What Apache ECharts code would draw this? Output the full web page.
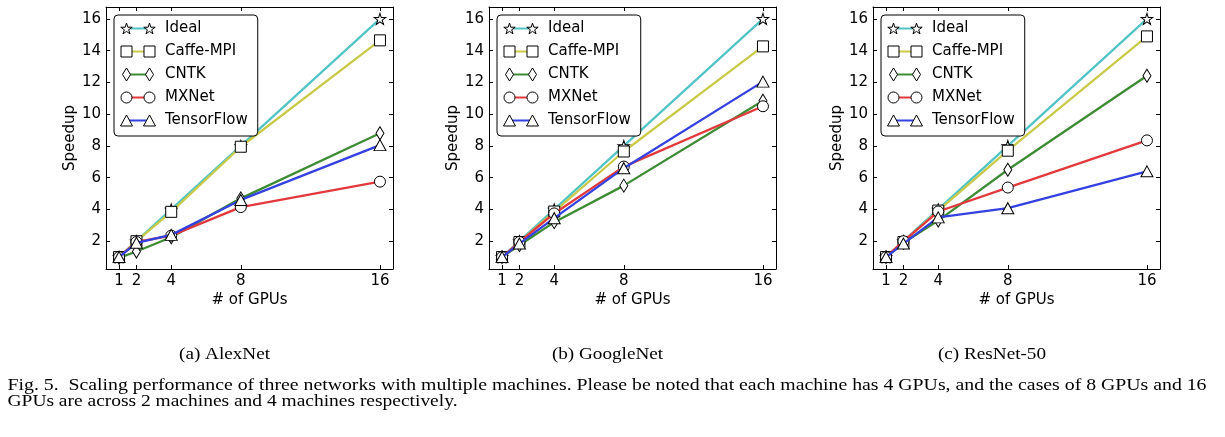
<!DOCTYPE html>
<html>
<head>
<meta charset="utf-8">
<script src="https://cdn.jsdelivr.net/npm/echarts@6/dist/echarts.min.js"></script>
<style>html,body{margin:0;padding:0;background:#fff}#c{width:1225px;height:437px}</style>
</head>
<body>
<div id="c"></div>
<script>
// ---------------- data ----------------
const gpus = [1, 2, 4, 8, 16];
const seriesNames = ['Ideal', 'Caffe-MPI', 'CNTK', 'MXNet', 'TensorFlow'];
const xTicks = [1, 2, 4, 8, 16];
const yTicks = [2, 4, 6, 8, 10, 12, 14, 16];
const axisMin = 0.25, axisMax = 16.75;

const alexIdeal = [1, 2, 4, 8, 16];
const alexCaffe = [1, 2.0, 3.85, 7.95, 14.65];
const alexCntk  = [0.95, 1.35, 2.25, 4.7, 8.8];
const alexMxnet = [1, 1.95, 2.35, 4.15, 5.75];
const alexTf    = [1, 1.9, 2.4, 4.6, 8.05];

const googIdeal = [1, 2, 4, 8, 16];
const googCaffe = [1, 1.95, 3.87, 7.65, 14.27];
const googCntk  = [1, 1.75, 3.2, 5.5, 10.85];
const googMxnet = [1, 1.95, 3.75, 6.7, 10.5];
const googTf    = [1, 1.85, 3.45, 6.6, 12.05];

const resIdeal = [1, 2, 4, 8, 16];
const resCaffe = [1, 1.95, 3.93, 7.7, 14.9];
const resCntk  = [1, 1.9, 3.3, 6.5, 12.42];
const resMxnet = [1, 2.0, 3.87, 5.38, 8.35];
const resTf    = [1, 1.85, 3.5, 4.08, 6.4];

const panelTitles = ['(a) AlexNet', '(b) GoogleNet', '(c) ResNet-50'];
const xName = '# of GPUs';
const yName = 'Speedup';
const captionLine1 = 'Fig. 5.  Scaling performance of three networks with multiple machines. Please be noted that each machine has 4 GPUs, and the cases of 8 GPUs and 16';
const captionLine2 = 'GPUs are across 2 machines and 4 machines respectively.';

const panelValues = [
  [alexIdeal, alexCaffe, alexCntk, alexMxnet, alexTf],
  [googIdeal, googCaffe, googCntk, googMxnet, googTf],
  [resIdeal, resCaffe, resCntk, resMxnet, resTf]
];

// ---------------- styles ----------------
const colors = ['#52c4c6', '#c9c94a', '#3d8c34', '#e2393d', '#3441e0'];
const kinds = ['star', 'square', 'diamond', 'circle', 'triangle'];
const STAR = 'path://M0,-100L22.45,-30.9L95.11,-30.9L36.33,11.8L58.78,80.9L0,38.2L-58.78,80.9L-36.33,11.8L-95.11,-30.9L-22.45,-30.9Z';
const dataSymbols = [STAR, 'rect', 'diamond', 'circle', 'triangle'];
const dataSizes = [[11.5, 11], 11, [8, 13], 11, [12, 11]];
const gridLefts = [106, 489, 873];
const gridTop = 7, gridW = 287, gridH = 262;
const FONT = 'DejaVu Sans';

function starPts(cx, cy, R, r) {
  let s = '';
  for (let k = 0; k < 10; k++) {
    const a = (-90 + 36 * k) * Math.PI / 180;
    const rr = k % 2 ? r : R;
    s += (k ? 'L' : 'M') + (cx + rr * Math.cos(a)).toFixed(2) + ' ' + (cy + rr * Math.sin(a)).toFixed(2);
  }
  return s + 'Z';
}
function markerPath(kind, cx) {
  switch (kind) {
    case 'star': return starPts(cx, 7.57, 6, 2.29);
    case 'square': return `M${cx-5.5} 1.5L${cx+5.5} 1.5L${cx+5.5} 12.5L${cx-5.5} 12.5Z`;
    case 'diamond': return `M${cx} 0.5L${cx+4} 7L${cx} 13.5L${cx-4} 7Z`;
    case 'circle': return `M${cx-5.5} 7A5.5 5.5 0 1 0 ${cx+5.5} 7A5.5 5.5 0 1 0 ${cx-5.5} 7Z`;
    case 'triangle': return `M${cx} 1.5L${cx+6} 12.5L${cx-6} 12.5Z`;
  }
}
const BOX = 'M0 0M40 14';

const labelStyle = { color: '#000', fontFamily: FONT, fontSize: 15 };

const grids = [], xAxes = [], yAxes = [], series = [], legends = [];
panelValues.forEach((vals, p) => {
  grids.push({ left: gridLefts[p], top: gridTop, width: gridW, height: gridH, outerBoundsMode: 'none' });
  [false, true].forEach(top => {
    xAxes.push({
      type: 'value', gridIndex: p, position: top ? 'top' : 'bottom', min: axisMin, max: axisMax,
      axisLine: { show: true, onZero: false, lineStyle: { color: '#000', width: 1 } },
      axisTick: { show: true, inside: true, length: 4, customValues: xTicks, lineStyle: { color: '#000', width: 1 } },
      axisLabel: Object.assign({ show: !top, customValues: xTicks, margin: 5 }, labelStyle),
      splitLine: { show: false },
      name: top ? '' : xName, nameLocation: 'middle', nameGap: 24, nameMoveOverlap: false,
      nameTextStyle: labelStyle
    });
    yAxes.push({
      type: 'value', gridIndex: p, position: top ? 'right' : 'left', min: axisMin, max: axisMax,
      axisLine: { show: true, onZero: false, lineStyle: { color: '#000', width: 1 } },
      axisTick: { show: true, inside: true, length: 4, customValues: yTicks, lineStyle: { color: '#000', width: 1 } },
      axisLabel: Object.assign({ show: !top, customValues: yTicks, margin: 5 }, labelStyle),
      splitLine: { show: false },
      name: top ? '' : yName, nameLocation: 'middle', nameGap: 28, nameMoveOverlap: false,
      nameTextStyle: labelStyle
    });
  });
  vals.forEach((arr, i) => {
    series.push({
      type: 'line', name: seriesNames[i], xAxisIndex: p * 2, yAxisIndex: p * 2,
      data: gpus.map((g, j) => [g, arr[j]]),
      symbol: dataSymbols[i], symbolSize: dataSizes[i], showSymbol: true, showAllSymbol: true,
      lineStyle: { color: colors[i], width: 2.3 },
      itemStyle: { color: '#fff', borderColor: '#000', borderWidth: 1 },
      emphasis: { disabled: true }, silent: true, z: 2 + i, animation: false
    });
  });
  const common = {
    orient: 'vertical', left: gridLefts[p] + 8, top: 15, padding: [6, 10, 8, 6],
    itemGap: 8, itemWidth: 40, itemHeight: 14, selectedMode: false, symbolKeepAspect: false,
    textStyle: { color: '#000', fontFamily: FONT, fontSize: 15, lineHeight: 14 }
  };
  legends.push(Object.assign({}, common, {
    z: 20, backgroundColor: '#fff', borderColor: '#000', borderWidth: 1, borderRadius: 4,
    data: seriesNames.map((n, i) => ({ name: n, icon: 'path://' + BOX + 'M6 6L29 6L29 8L6 8Z', itemStyle: { color: colors[i], borderWidth: 0 } }))
  }));
  legends.push(Object.assign({}, common, {
    z: 21, formatter: function () { return ''; },
    data: seriesNames.map((n, i) => ({ name: n, icon: 'path://' + BOX + markerPath(kinds[i], 6) + markerPath(kinds[i], 29), itemStyle: { color: '#fff', borderColor: '#000', borderWidth: 1 } }))
  }));
});

// ---------------- captions ----------------
const CAP_FONT = 'Liberation Serif';
const CAP_SIZE = 16;
const mctx = document.createElement('canvas').getContext('2d');
function natWidth(t) { mctx.font = CAP_SIZE + 'px "' + CAP_FONT + '"'; return mctx.measureText(t).width; }
const subScale = 91 / natWidth(panelTitles[0]);
const subCenters = [224.5, 607.5, 992];
const graphics = [];
panelTitles.forEach((t, p) => {
  graphics.push({ type: 'text', x: subCenters[p], y: 354.5, scaleX: subScale, silent: true,
    style: { text: t, fontFamily: CAP_FONT, fontSize: CAP_SIZE, fill: '#000', align: 'center', verticalAlign: 'middle' } });
});
graphics.push({ type: 'text', x: 7.5, y: 386, scaleX: 1199 / natWidth(captionLine1), silent: true,
  style: { text: captionLine1, fontFamily: CAP_FONT, fontSize: CAP_SIZE, fill: '#000', align: 'left', verticalAlign: 'middle' } });
graphics.push({ type: 'text', x: 7.5, y: 402, scaleX: 450 / natWidth(captionLine2), silent: true,
  style: { text: captionLine2, fontFamily: CAP_FONT, fontSize: CAP_SIZE, fill: '#000', align: 'left', verticalAlign: 'middle' } });

const chart = echarts.init(document.getElementById('c'), null, { renderer: 'canvas' });
chart.setOption({
  animation: false,
  backgroundColor: '#fff',
  grid: grids,
  xAxis: xAxes,
  yAxis: yAxes,
  legend: legends,
  series: series,
  graphic: graphics
});
</script>
</body>
</html>
